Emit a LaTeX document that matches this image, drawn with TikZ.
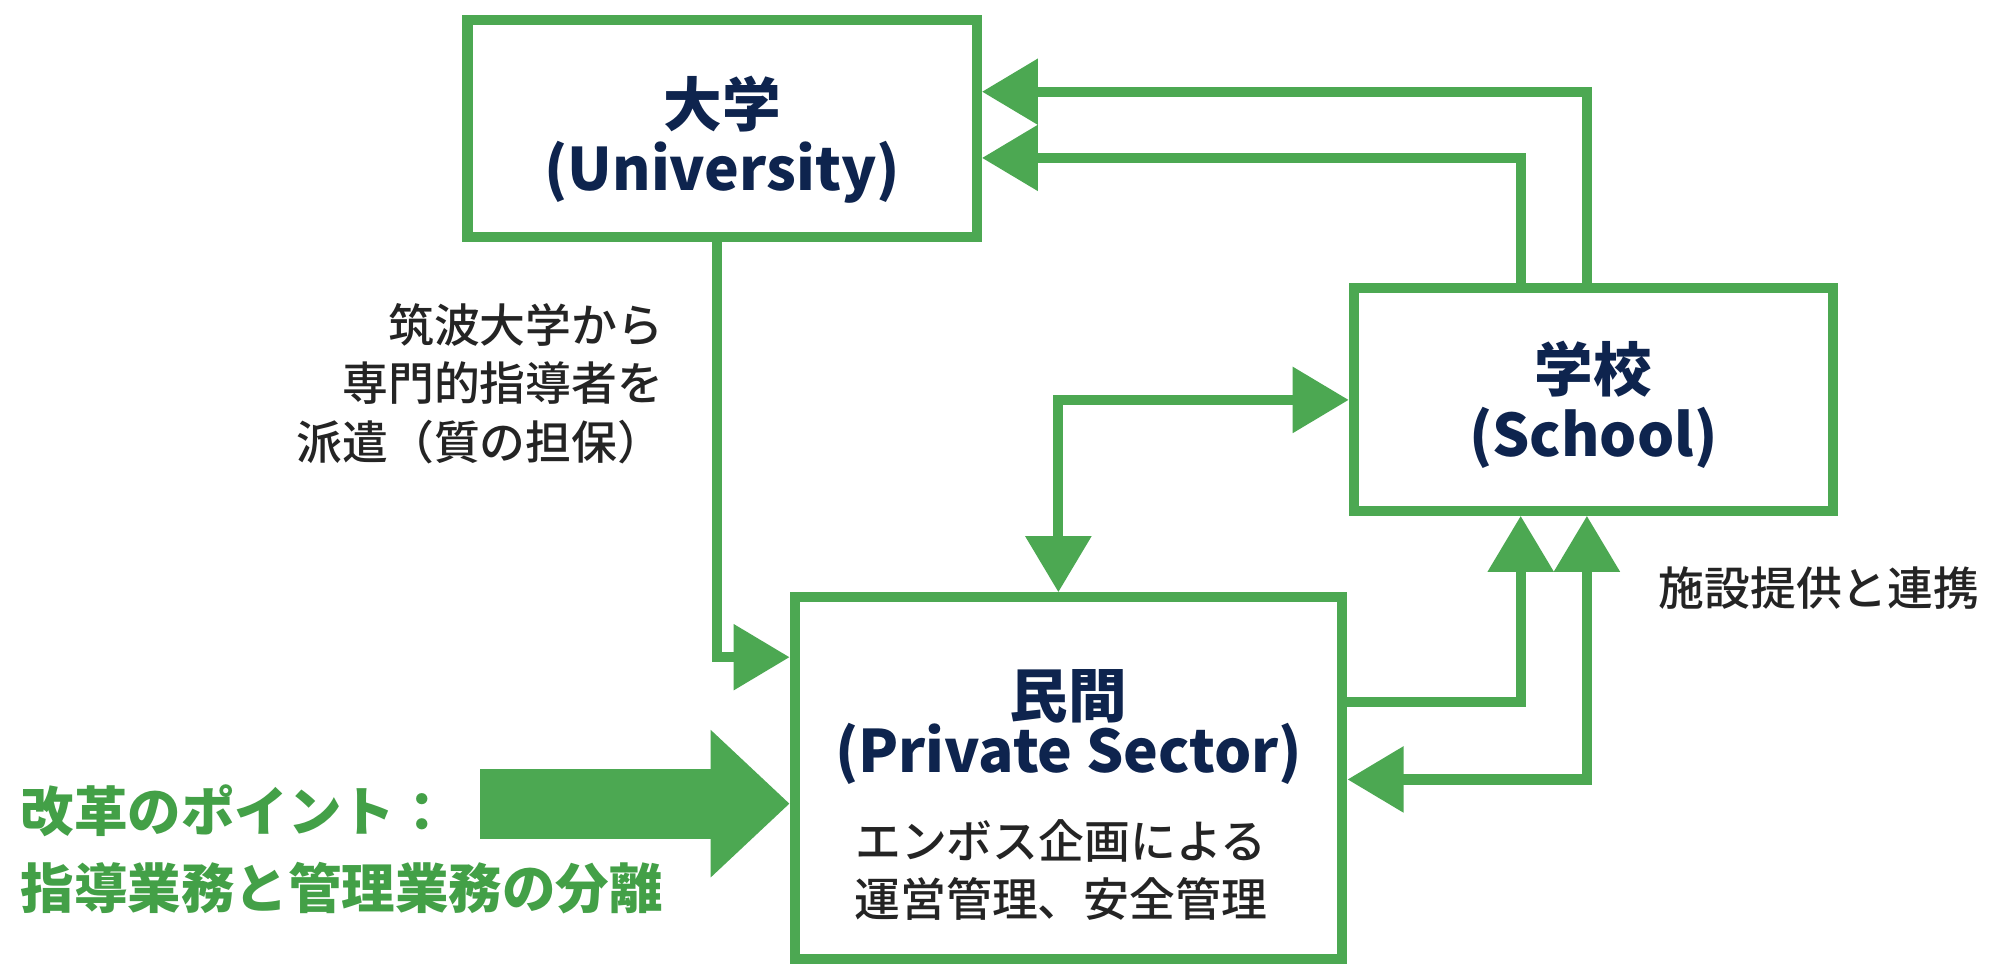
\documentclass[tikz,border=0pt]{standalone}
\usepackage{fontspec}
\setmainfont{Noto Sans CJK JP}
\newfontfamily\cjkmed{Noto Sans CJK JP Medium}
\usetikzlibrary{arrows.meta}
\definecolor{grn}{RGB}{76,168,82}
\definecolor{grntxt}{RGB}{67,160,71}
\definecolor{navy}{RGB}{14,36,78}
\definecolor{txt}{RGB}{36,36,36}
\begin{document}
\begin{tikzpicture}[x=1pt,y=-1pt,
  box/.style={draw=grn, line width=8pt, fill=white, inner sep=0pt},
  title/.style={font=\fontsize{46}{50}\selectfont\bfseries, text=navy, inner sep=0pt},
  body/.style={font=\cjkmed\fontsize{36}{46}\selectfont, text=txt, inner sep=0pt, align=center},
  conn/.style={draw=grn, line width=8pt, line join=miter},
  tip/.style={-{Triangle[length=44pt,width=50pt]}},
  tipboth/.style={{Triangle[length=44pt,width=50pt]}-{Triangle[length=44pt,width=50pt]}}
]
\useasboundingbox (0,0) rectangle (1568,758);
\fill[white] (0,0) rectangle (1568,758);

% boxes
\node[box, minimum width=400pt, minimum height=170pt] (uni) at (567,101) {};
\node[box, minimum width=376pt, minimum height=175pt] (sch) at (1251,313.5) {};
\node[box, minimum width=430pt, minimum height=284pt] (prv) at (839,611) {};

% box texts
\node[title] (unija) at (567,82) {大学};
\node[title] (unien) at (567,135) {(University)};
\node[title] (schja) at (1251,290) {学校};
\node[title] (schen) at (1251,344) {(School)};
\node[title] (prvja) at (839,547) {民間};
\node[title] (prven) at (839,592) {(Private Sector)};
\node[body] (prvtx) at (833,683) {エンボス企画による\\運営管理、安全管理};

% connectors
\coordinate (uA) at (1246,0);
\coordinate (uB) at (1194,0);
\draw[conn, tip] (sch.north -| uA) |- (uni.east |- 0,72);
\draw[conn, tip] (sch.north -| uB) |- (uni.east |- 0,124);

\coordinate (dA) at (563,0);
\draw[conn, tip] (uni.south -| dA) |- (prv.west |- 0,516);

\coordinate (pA) at (831,0);
\draw[conn, tipboth] (prv.north -| pA) |- (sch.west |- 0,314);

\draw[conn, tip] (prv.east |- 0,551) -| (sch.south -| uB);
\draw[conn, tipboth] (prv.east |- 0,612) -| (sch.south -| uA);

% labels
\node[body, align=right, anchor=east] (lbl1) at (521,301) {筑波大学から\\専門的指導者を\\派遣（質の担保）};
\node[body, anchor=west] (lbl2) at (1302,462) {施設提供と連携};

% big arrow
\coordinate (bigstart) at (377,631);
\draw[grn, line width=55pt, -{Triangle[length=62pt,width=112pt]}] (bigstart) -- (prv.west |- bigstart);

\node[font=\fontsize{42}{60}\selectfont\bfseries, text=grntxt, align=left, anchor=west, inner sep=0pt] (reform) at (16,667) {改革のポイント：\\指導業務と管理業務の分離};
\end{tikzpicture}
\end{document}
